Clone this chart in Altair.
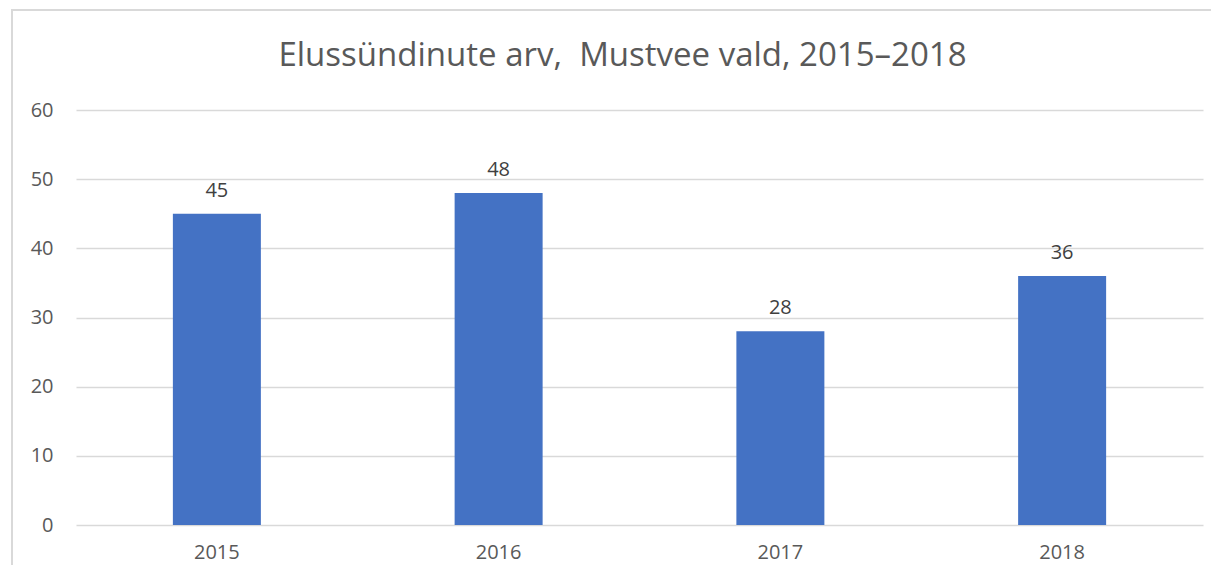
import altair as alt
import pandas as pd

years = ["2015", "2016", "2017", "2018"]
births = [45, 48, 28, 36]
y_ticks = [0, 10, 20, 30, 40, 50, 60]
title_text = "Elussündinute arv,\u00a0 Mustvee vald, 2015–2018"

df = pd.DataFrame({"year": years, "births": births})

FONT = "Open Sans"
GRID = "#d9d9d9"
TEXT = "#595959"

base = alt.Chart(df)

frame = base.mark_rect(fill=None, stroke=GRID, strokeWidth=1.5).encode(
    x=alt.value(-64), x2=alt.value(1170), y=alt.value(-100), y2=alt.value(490)
)

bars = base.mark_bar(color="#4472C4", size=88).encode(
    x=alt.X("year:N", sort=years, title=None,
            axis=alt.Axis(labelAngle=0, ticks=False, domain=False, labelPadding=17,
                          labelFont=FONT, labelFontSize=20, labelColor=TEXT)),
    y=alt.Y("births:Q", title=None,
            scale=alt.Scale(domain=[0, 60], nice=False),
            axis=alt.Axis(values=y_ticks, ticks=False, domain=False, labelPadding=23,
                          labelFont=FONT, labelFontSize=20, labelColor=TEXT,
                          gridColor=GRID, gridWidth=1.5)),
)

labels = base.mark_text(font=FONT, fontSize=20, color="#404040",
                        baseline="alphabetic", dy=-17).encode(
    x=alt.X("year:N", sort=years),
    y=alt.Y("births:Q"),
    text=alt.Text("births:Q"),
)

chart = alt.layer(frame, bars, labels).properties(
    width=1127,
    height=415,
    background="white",
    title=alt.TitleParams(title_text, font=FONT, fontSize=33, fontWeight="normal",
                          color=TEXT, anchor="middle", dx=-17, offset=0, dy=90,
                          baseline="alphabetic"),
    autosize=alt.AutoSizeParams(type="none"),
    padding={"left": 68, "top": 102, "right": 8, "bottom": 40},
).configure_view(strokeWidth=0, stroke="transparent")

chart.save("out.html", embed_options={"renderer": "svg", "actions": False})
